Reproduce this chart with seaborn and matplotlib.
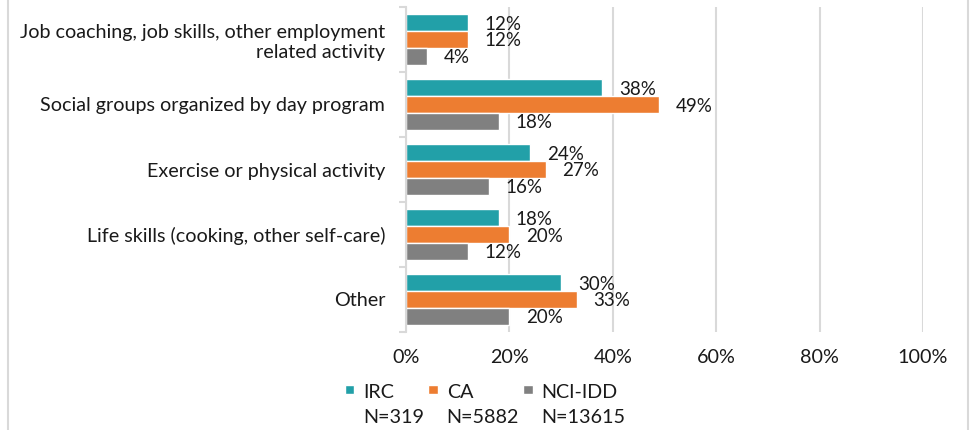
import matplotlib
matplotlib.use("Agg")
import matplotlib.pyplot as plt
from matplotlib.lines import Line2D
from matplotlib.patches import Rectangle
from matplotlib.legend_handler import HandlerPatch
from matplotlib.ticker import FuncFormatter, FixedLocator
import seaborn as sns
import pandas as pd

categories = [
    "Job coaching, job skills, other employment\nrelated activity",
    "Social groups organized by day program",
    "Exercise or physical activity",
    "Life skills (cooking, other self-care)",
    "Other",
]
groups = ["IRC", "CA", "NCI-IDD"]
group_n = ["N=319", "N=5882", "N=13615"]
irc = [0.12, 0.38, 0.24, 0.18, 0.30]
ca = [0.12, 0.49, 0.27, 0.20, 0.33]
nci = [0.04, 0.18, 0.16, 0.12, 0.20]
colors = ["#22A0A8", "#ED7D31", "#808080"]

rows = []
for g, vals in zip(groups, [irc, ca, nci]):
    for c, v in zip(categories, vals):
        rows.append({"activity": c, "group": g, "share": v})
df = pd.DataFrame(rows)

FS = 14.2
TXT = "#1a1a1a"

sns.set_style("white")
plt.rcParams["font.family"] = ["Lato", "DejaVu Sans"]

fig = plt.figure(figsize=(9.72, 4.30), dpi=100)
ax = fig.add_axes([406 / 972, 1 - 332 / 430, 517 / 972, 325 / 430])

sns.barplot(
    data=df, y="activity", x="share", hue="group", order=categories,
    hue_order=groups, palette=colors, orient="h", width=0.78,
    edgecolor="white", linewidth=1.0, saturation=1, legend=True, ax=ax,
)

for cont in ax.containers:
    texts = ax.bar_label(cont, labels=[f"{v * 100:.0f}%" for v in cont.datavalues],
                         padding=12, fontsize=13.5, color=TXT)
    for t in texts:
        t.set_va("center_baseline")

ax.set_xlim(0, 1)
ax.set_ylim(len(categories) - 0.5, -0.5)
ax.xaxis.set_major_locator(FixedLocator([0, 0.2, 0.4, 0.6, 0.8, 1.0]))
ax.xaxis.set_major_formatter(FuncFormatter(lambda v, _: f"{v * 100:.0f}%"))
ax.grid(axis="x", color="#D9D9D9", linewidth=1.5)
ax.set_axisbelow(True)
ax.set_xlabel("")
ax.set_ylabel("")

for side in ["top", "right", "bottom"]:
    ax.spines[side].set_visible(False)
ax.spines["left"].set_color("#D9D9D9")
ax.spines["left"].set_linewidth(1.5)

ax.tick_params(axis="x", length=0, pad=12, labelsize=FS, labelcolor=TXT)
ax.tick_params(axis="y", which="major", length=0, pad=15, labelsize=FS,
               labelcolor=TXT)
ax.set_yticks(range(len(categories)))
ax.set_yticklabels(categories, ha="right")
ax.yaxis.set_minor_locator(FixedLocator([i - 0.5 for i in range(len(categories) + 1)]))
ax.tick_params(axis="y", which="minor", length=5, width=1.5, color="#D9D9D9",
               direction="out", left=True)


def upper_square(legend, orig_handle, xdescent, ydescent, width, height, fontsize):
    # square marker sitting beside the first line of a two-line label
    side = min(width, height)
    return Rectangle((-xdescent, -ydescent + 0.85 * fontsize), side, side)


old = ax.get_legend()
handles = old.legend_handles
old.remove()
labels = [f"{g}\n{n}" for g, n in zip(groups, group_n)]
leg = fig.legend(
    handles, labels, loc="upper left", bbox_to_anchor=(345 / 972, 1 - 384 / 430),
    ncol=3, frameon=False, fontsize=FS, handlelength=0.47, handleheight=0.47,
    handletextpad=0.45, columnspacing=0.22, borderaxespad=0, borderpad=0,
    handler_map={h: HandlerPatch(patch_func=upper_square) for h in handles},
)
for t in leg.get_texts():
    t.set_color(TXT)
    t.set_linespacing(1.6)

for xf in (8 / 972, 968 / 972):
    fig.add_artist(Line2D([xf, xf], [0, 1], transform=fig.transFigure,
                          color="#D9D9D9", linewidth=1.5))

fig.savefig("out.png", dpi=100)
